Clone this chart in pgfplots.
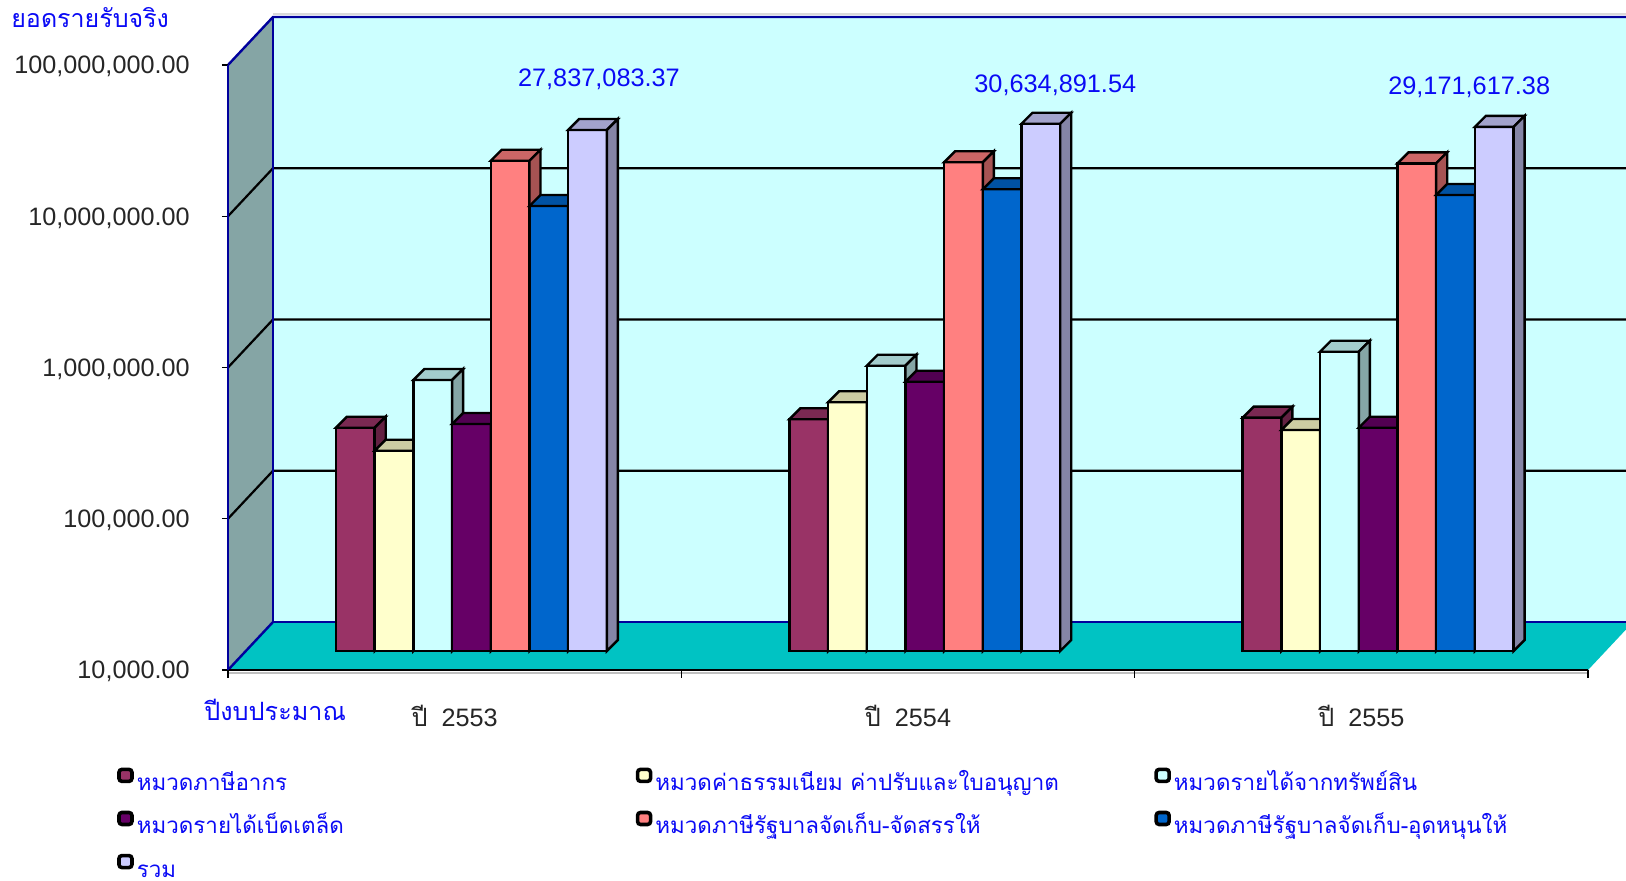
\documentclass[border=0pt]{standalone}
\usepackage{fontspec}
\setmainfont{Liberation Sans}
\newfontfamily\thaifont[Script=Thai]{Loma}
\usepackage{pgfplots}
\pgfplotsset{compat=1.18}

\definecolor{c1}{HTML}{993366}
\definecolor{c2}{HTML}{FFFFCC}
\definecolor{c3}{HTML}{CCFFFF}
\definecolor{c4}{HTML}{660066}
\definecolor{c5}{HTML}{FF8080}
\definecolor{c6}{HTML}{0066CC}
\definecolor{c7}{HTML}{CCCCFF}
\definecolor{sidewall}{HTML}{85A5A5}
\definecolor{floorcol}{HTML}{00C3C3}
\definecolor{edge}{HTML}{00009C}
\definecolor{labelblue}{HTML}{0A0AF5}

% front face comes from ybar, the mark adds top and right faces (1px = 0.5pt)
% \logy is log10 of the value here, one decade = 75.625pt
\newcommand\declbox[2]{\pgfdeclareplotmark{#1}{%
  \pgfmathsetmacro\barh{(\logy-4)*75.625}%
  \pgfsetlinewidth{1.2pt}\pgfsetstrokecolor{black}\pgfsetmiterjoin
  \pgfsetfillcolor{#2!80!black}%
  \pgfpathmoveto{\pgfpoint{-9.68pt}{0pt}}%
  \pgfpathlineto{\pgfpoint{9.68pt}{0pt}}%
  \pgfpathlineto{\pgfpoint{15.18pt}{5.5pt}}%
  \pgfpathlineto{\pgfpoint{-4.18pt}{5.5pt}}%
  \pgfpathclose\pgfusepath{fill,stroke}%
  \pgfsetfillcolor{#2!65!black}%
  \pgfpathmoveto{\pgfpoint{9.68pt}{0pt}}%
  \pgfpathlineto{\pgfpoint{15.18pt}{5.5pt}}%
  \pgfpathlineto{\pgfpoint{15.18pt}{5.5pt-\barh pt}}%
  \pgfpathlineto{\pgfpoint{9.68pt}{-\barh pt}}%
  \pgfpathclose\pgfusepath{fill,stroke}}}
\declbox{box1}{c1}\declbox{box2}{c2}\declbox{box3}{c3}\declbox{box4}{c4}
\declbox{box5}{c5}\declbox{box6}{c6}\declbox{box7}{c7}

\pgfplotsset{
  box3d/.style 2 args={ybar, bar width=19.35pt, bar shift=0pt, fill=#2, draw=black,
    line width=1.2pt, mark=#1,
    visualization depends on={y \as \logy},
    legend image code/.code={\path[draw=black,line width=1.8pt,rounded corners=1.5pt,fill=#2]
      (0pt,-8pt) rectangle (6.5pt,-2pt);}},
  every axis plot/.append style={xshift=9pt,yshift=9.5pt},
}
\newcommand\legtxt[1]{\raisebox{0pt}[8pt][3pt]{\makebox[244.5pt][l]{\hspace{1.5pt}\thaifont #1}}}

\begin{document}
\begin{tikzpicture}
\useasboundingbox (-114pt,-105pt) rectangle (699pt,335pt);
\clip (-114pt,-105pt) rectangle (699pt,335pt);
\begin{scope}[x=0.5pt,y=0.5pt]
  \fill[c3] (45,48) rectangle (1405,653);
  \fill[sidewall] (0,0) -- (45,48) -- (45,653) -- (0,605) -- cycle;
  \fill[floorcol] (0,0) -- (45,48) -- (1405,48) -- (1360,0) -- cycle;
  \foreach \k in {151.25,302.5,453.75} {
    \draw[black,line width=1.1pt] (0,\k) -- (45,48+\k) -- (1405,48+\k);
  }
  \draw[edge,line width=1pt] (45,48) -- (45,653);
  \draw[edge,line width=1pt] (45,48) -- (1405,48);
  \draw[black!15,line width=1pt] (45,656) -- (1405,656);
  \draw[edge,line width=1.2pt] (0,0) -- (45,48);
  \draw[edge,line width=1.2pt] (0,605) -- (45,653) -- (1405,653);
  \draw[black!25,line width=1pt] (0,-3) -- (1360,-3);
\end{scope}
\begin{axis}[
  at={(0pt,0pt)}, anchor=south west,
  scale only axis, width=680pt, height=302.5pt,
  ymode=log, ymin=10000, ymax=100000000, log basis y=10, log origin y=infty,
  xmin=0, xmax=3, clip=false, clip marker paths=true,
  axis x line*=bottom, axis y line*=left,
  tick align=outside,
  x axis line style={-,black,line width=1.3pt},
  y axis line style={-,edge,line width=1.2pt},
  xtick={0.5,1.5,2.5}, minor xtick={0,1,2,3},
  major x tick style={draw=none},
  minor x tick style={black,line width=0.7pt},
  minor tick length=4pt,
  xticklabels={{\thaifont ปี}\ \ 2553,{\thaifont ปี}\ \ 2554,{\thaifont ปี}\ \ 2555},
  x tick label style={font=\fontsize{12.6}{13}\selectfont,text=black!85,yshift=-20.2pt,inner sep=0pt,anchor=center},
  ytick={10000,100000,1000000,10000000,100000000},
  yminorticks=false,
  y tick style={black,line width=0.7pt},
  major tick length=3pt,
  yticklabels={{10,000.00},{100,000.00},{1,000,000.00},{10,000,000.00},{100,000,000.00}},
  y tick label style={font=\fontsize{12.6}{13}\selectfont,text=black!85,anchor=east,inner sep=0pt,xshift=-16pt,yshift=-0.8pt},
  xlabel={\thaifont ปีงบประมาณ},
  xlabel style={at={(axis description cs:-0.0176,-0.0661)},anchor=west,inner sep=0pt,text=labelblue,font=\fontsize{12.6}{13}\selectfont},
  ylabel={\thaifont ยอดรายรับจริง},
  ylabel style={at={(axis description cs:-0.1596,1.079)},anchor=west,rotate=-90,inner sep=0pt,text=labelblue,font=\fontsize{12.5}{13}\selectfont},
  legend columns=3,
  legend cell align=left,
  legend style={at={(axis description cs:-0.0862,-0.154)},anchor=north west,draw=none,fill=none,
    text=labelblue,font=\fontsize{11.2}{13}\selectfont,row sep=8.4pt,
    nodes={inner sep=0pt},
    /tikz/every even column/.append style={column sep=6.5pt}},
]
\addplot[box3d={box1}{c1}] table {
x y
0.2412 299500
1.2412 340400
2.2412 348800
};
\addlegendentry{\legtxt{หมวดภาษีอากร}}
\addplot[box3d={box2}{c2}] table {
x y
0.3266 211000
1.3266 440900
2.3266 289200
};
\addlegendentry{\legtxt{หมวดค่าธรรมเนียม ค่าปรับและใบอนุญาต}}
\addplot[box3d={box3}{c3}] table {
x y
0.4120 619000
1.4120 769500
2.4120 952500
};
\addlegendentry{\legtxt{หมวดรายได้จากทรัพย์สิน}}
\addplot[box3d={box4}{c4}] table {
x y
0.4973 316800
1.4973 603300
2.4973 299500
};
\addlegendentry{\legtxt{หมวดรายได้เบ็ดเตล็ด}}
\addplot[box3d={box5}{c5}] table {
x y
0.5827 17440000
1.5827 17030000
2.5827 16760000
};
\addlegendentry{\legtxt{หมวดภาษีรัฐบาลจัดเก็บ-จัดสรรให้}}
\addplot[box3d={box6}{c6}] table {
x y
0.6680 8752000
1.6680 11290000
2.6680 10350000
};
\addlegendentry{\legtxt{หมวดภาษีรัฐบาลจัดเก็บ-อุดหนุนให้}}
\addplot[box3d={box7}{c7},
  point meta=explicit symbolic,
  visualization depends on={\thisrow{dx} \as \labdx},
  visualization depends on={\thisrow{lift} \as \lablift},
  nodes near coords,
  every node near coord/.style={anchor=center,inner sep=0pt,xshift=\labdx pt,yshift=\lablift pt,
    text=labelblue,font=\fontsize{12.65}{13}\selectfont},
] table[meta=label] {
x y label dx lift
0.7534 27837083.37 27,837,083.37 5.7 25.5
1.7534 30634891.54 30,634,891.54 7.2 19
2.7534 29171617.38 29,171,617.38 -12.5 20
};
\addlegendentry{\legtxt{รวม}}
\end{axis}
\end{tikzpicture}
\end{document}
